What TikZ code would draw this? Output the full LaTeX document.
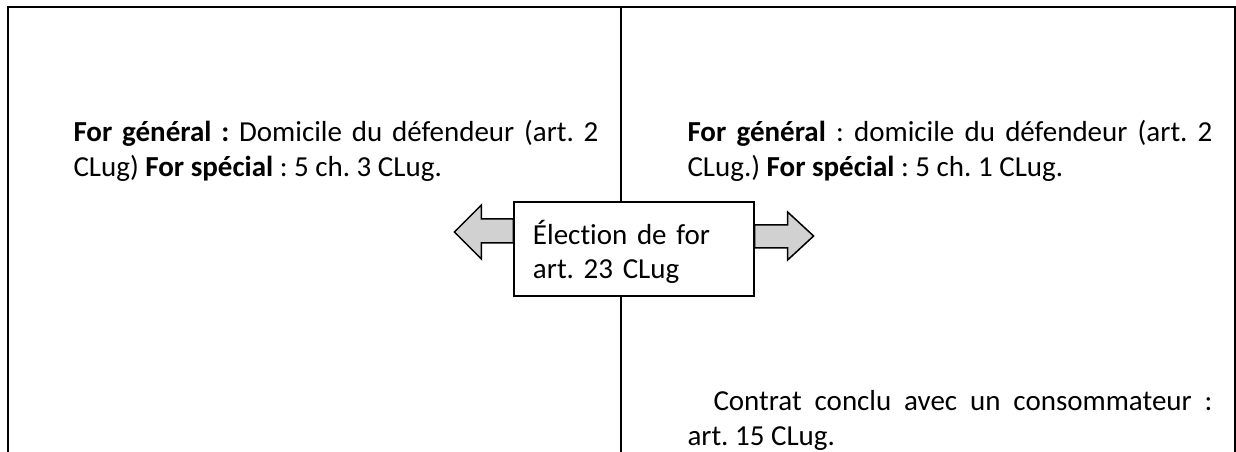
\documentclass[tikz,border=0pt]{standalone}
\usepackage{fontspec}
\setmainfont{Carlito}[Ligatures=NoCommon]
\usepackage{tikz}
\frenchspacing

\begin{document}
\begin{tikzpicture}[
  x=0.4pt, y=-0.4pt,
  frame/.style={
    draw=black,
    line width=0.8pt
  },
  divider/.style={
    draw=black,
    line width=0.5pt
  },
  para/.style={
    anchor=base west,
    inner sep=0pt,
    text width=210pt,
    align=justify,
    font=\fontsize{11.6}{14}\selectfont
  },
  forum/.style={
    rectangle,
    draw=black,
    fill=white,
    line width=0.5pt,
    minimum width=96pt,
    minimum height=37.6pt,
    text width=80.8pt,
    inner xsep=7.6pt,
    align=left,
    font=\fontsize{11.6}{13.4}\selectfont
  },
  blockarrow/.style={
    draw=black,
    fill=black!18,
    line width=0.6pt,
    line join=miter
  }
]
\useasboundingbox (0,0) rectangle (1236,452);

% Table frame
\draw[frame] (8,452) -- (8,7) -- (1235,7) -- (1235,452);
\draw[divider] (621,7) -- (621,452);

% Left and right cells
\node[para] (gauche) at (73,142) {\textbf{For général :} Domicile du défendeur (art.~2\linebreak CLug) \textbf{For spécial} : 5 ch. 3 CLug.};
\node[para] (droite) at (687,142) {\textbf{For général} : domicile du défendeur (art.~2\linebreak CLug.) \textbf{For spécial} : 5 ch. 1 CLug.};
\node[para] (conso) at (687,411) {\hspace*{10.4pt}Contrat conclu avec un consommateur :\linebreak art. 15 CLug.};

% Middle box
\node[forum] (election) at (634,249) {\rule{0pt}{1.05em}Élection de for\\art. 23 CLug};

% Block arrows
\draw[blockarrow] ([shift={(0,-30)}]election.west) -- ++(-32,0) -- ++(0,-14) -- ++(-27,27) -- ++(27,27) -- ++(0,-16) -- ++(32,0) -- cycle;
\draw[blockarrow] ([shift={(0,-24)}]election.east) -- ++(33,0) -- ++(0,-13) -- ++(26,24) -- ++(-26,24) -- ++(0,-12) -- ++(-33,0) -- cycle;

\end{tikzpicture}
\end{document}
